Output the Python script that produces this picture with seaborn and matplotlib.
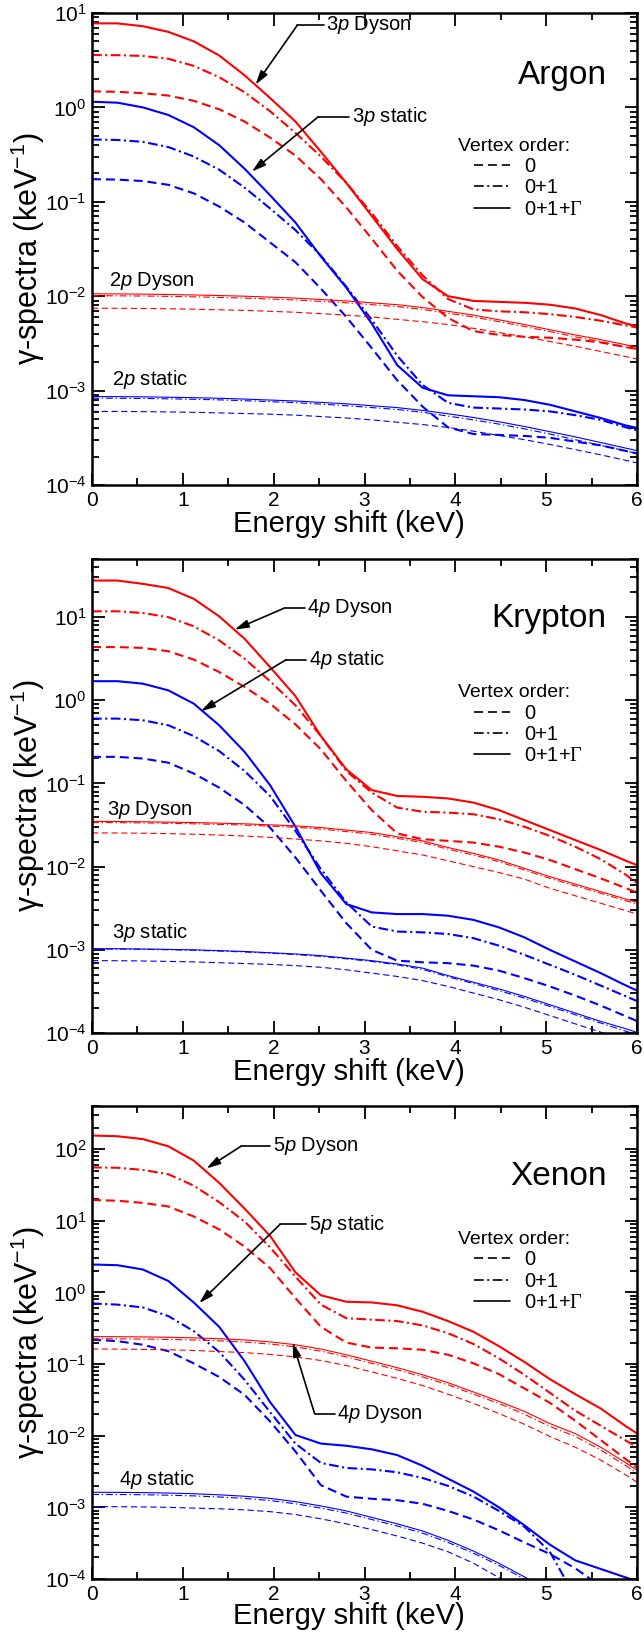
import numpy as np
import matplotlib
matplotlib.use("Agg")
import matplotlib.pyplot as plt
import seaborn as sns
from matplotlib.lines import Line2D
from matplotlib.ticker import LogLocator, NullFormatter, MultipleLocator, LogFormatterMathtext

# Energy grid of the spectra (keV)
ENERGY = [0.00, 0.28, 0.56, 0.84, 1.12, 1.40, 1.68, 1.96, 2.24, 2.52, 2.80, 3.08,
          3.36, 3.64, 3.92, 4.20, 4.48, 4.76, 5.04, 5.32, 5.60, 5.88, 6.16]

ORDER_LABELS = ["0", "0+1", r"0+1+$\mathsf{\Gamma}$"]

# log10 of the gamma-spectra (keV^-1), per vertex order: 0, 0+1, 0+1+Gamma
# ---- Argon ----
AR_3P_DYSON_0 = [0.17, 0.165, 0.15, 0.125, 0.07, -0.02, -0.15, -0.32, -0.51, -0.76, -1.06, -1.39,
                 -1.73, -2.01, -2.23, -2.37, -2.41, -2.43, -2.44, -2.46, -2.49, -2.54, -2.58]
AR_3P_DYSON_01 = [0.555, 0.553, 0.545, 0.515, 0.44, 0.32, 0.16, -0.04, -0.27, -0.52, -0.80, -1.12,
                  -1.47, -1.78, -2.03, -2.14, -2.16, -2.17, -2.19, -2.22, -2.26, -2.31, -2.36]
AR_3P_DYSON_01G = [0.89, 0.89, 0.86, 0.80, 0.70, 0.55, 0.34, 0.10, -0.15, -0.47, -0.80, -1.15,
                   -1.50, -1.82, -2.00, -2.05, -2.06, -2.07, -2.09, -2.13, -2.20, -2.29, -2.35]
AR_3P_STATIC_0 = [-0.76, -0.765, -0.78, -0.82, -0.91, -1.05, -1.22, -1.43, -1.64, -1.92, -2.22, -2.55,
                  -2.89, -3.17, -3.39, -3.46, -3.47, -3.48, -3.50, -3.54, -3.58, -3.64, -3.70]
AR_3P_STATIC_01 = [-0.34, -0.345, -0.365, -0.42, -0.52, -0.66, -0.85, -1.07, -1.30, -1.57, -1.90, -2.25,
                   -2.63, -2.94, -3.13, -3.18, -3.19, -3.20, -3.22, -3.26, -3.31, -3.39, -3.46]
AR_3P_STATIC_01G = [0.06, 0.05, 0.0, -0.08, -0.21, -0.40, -0.65, -0.93, -1.22, -1.58, -1.91, -2.29,
                    -2.73, -2.97, -3.05, -3.06, -3.07, -3.10, -3.15, -3.22, -3.29, -3.37, -3.43]
AR_2P_DYSON_0 = [-2.127, -2.128, -2.130, -2.133, -2.138, -2.144, -2.15, -2.16, -2.17, -2.185, -2.20, -2.22,
                 -2.245, -2.27, -2.30, -2.34, -2.385, -2.43, -2.48, -2.53, -2.585, -2.64, -2.70]
AR_2P_DYSON_01 = [-1.995, -1.996, -1.998, -2.002, -2.007, -2.013, -2.02, -2.03, -2.04, -2.055, -2.07, -2.09,
                  -2.11, -2.14, -2.18, -2.22, -2.27, -2.32, -2.375, -2.43, -2.48, -2.54, -2.59]
AR_2P_DYSON_01G = [-1.975, -1.976, -1.978, -1.982, -1.987, -1.993, -2.00, -2.01, -2.02, -2.035, -2.05, -2.07,
                   -2.09, -2.12, -2.16, -2.20, -2.25, -2.30, -2.355, -2.41, -2.46, -2.515, -2.57]
AR_2P_STATIC_0 = [-3.22, -3.221, -3.223, -3.226, -3.23, -3.236, -3.243, -3.25, -3.26, -3.275, -3.29, -3.31,
                  -3.335, -3.36, -3.39, -3.43, -3.475, -3.52, -3.57, -3.625, -3.68, -3.74, -3.80]
AR_2P_STATIC_01 = [-3.08, -3.081, -3.083, -3.087, -3.092, -3.098, -3.107, -3.117, -3.128, -3.143, -3.16, -3.18,
                   -3.20, -3.23, -3.27, -3.31, -3.355, -3.405, -3.46, -3.52, -3.58, -3.64, -3.70]
AR_2P_STATIC_01G = [-3.063, -3.064, -3.066, -3.07, -3.075, -3.081, -3.09, -3.10, -3.11, -3.125, -3.14, -3.16,
                    -3.18, -3.21, -3.245, -3.285, -3.33, -3.38, -3.435, -3.49, -3.55, -3.61, -3.67]

# ---- Krypton ----
KR_4P_DYSON_0 = [0.64, 0.64, 0.63, 0.59, 0.49, 0.34, 0.16, -0.04, -0.29, -0.59, -0.97, -1.32,
                 -1.60, -1.67, -1.69, -1.71, -1.76, -1.83, -1.92, -2.03, -2.14, -2.26, -2.38]
KR_4P_DYSON_01 = [1.07, 1.07, 1.05, 1.00, 0.89, 0.72, 0.50, 0.23, -0.06, -0.43, -0.85, -1.11,
                  -1.29, -1.34, -1.35, -1.37, -1.43, -1.52, -1.63, -1.76, -1.91, -2.10, -2.33]
KR_4P_DYSON_01G = [1.44, 1.44, 1.40, 1.35, 1.22, 1.01, 0.74, 0.40, 0.05, -0.43, -0.83, -1.08,
                   -1.15, -1.16, -1.18, -1.23, -1.32, -1.44, -1.56, -1.68, -1.80, -1.93, -2.05]
KR_4P_STATIC_0 = [-0.68, -0.68, -0.70, -0.75, -0.88, -1.05, -1.26, -1.53, -1.89, -2.29, -2.68, -3.00,
                  -3.13, -3.15, -3.16, -3.19, -3.25, -3.34, -3.44, -3.55, -3.67, -3.80, -3.93]
KR_4P_STATIC_01 = [-0.22, -0.22, -0.24, -0.30, -0.43, -0.61, -0.85, -1.15, -1.57, -2.03, -2.43, -2.72,
                   -2.78, -2.79, -2.81, -2.86, -2.95, -3.06, -3.18, -3.30, -3.43, -3.56, -3.69]
KR_4P_STATIC_01G = [0.23, 0.23, 0.20, 0.12, -0.04, -0.30, -0.62, -1.02, -1.52, -2.08, -2.45, -2.55,
                    -2.57, -2.57, -2.59, -2.64, -2.73, -2.85, -3.00, -3.14, -3.28, -3.43, -3.57]
KR_3P_DYSON_0 = [-1.594, -1.595, -1.598, -1.603, -1.61, -1.62, -1.632, -1.648, -1.668, -1.69, -1.72, -1.76,
                 -1.81, -1.86, -1.93, -2.00, -2.07, -2.15, -2.26, -2.35, -2.44, -2.53, -2.62]
KR_3P_DYSON_01 = [-1.47, -1.471, -1.474, -1.479, -1.485, -1.492, -1.50, -1.512, -1.527, -1.548, -1.578, -1.61,
                  -1.66, -1.71, -1.79, -1.86, -1.94, -2.04, -2.14, -2.23, -2.32, -2.41, -2.50]
KR_3P_DYSON_01G = [-1.456, -1.457, -1.46, -1.465, -1.47, -1.477, -1.485, -1.497, -1.51, -1.53, -1.56, -1.59,
                   -1.64, -1.69, -1.77, -1.84, -1.92, -2.02, -2.12, -2.21, -2.30, -2.39, -2.48]
KR_3P_STATIC_0 = [-3.13, -3.131, -3.134, -3.139, -3.145, -3.155, -3.165, -3.175, -3.19, -3.21, -3.24, -3.28,
                  -3.32, -3.37, -3.44, -3.52, -3.60, -3.69, -3.79, -3.89, -3.99, -4.09, -4.19]
KR_3P_STATIC_01 = [-2.99, -2.991, -2.994, -2.999, -3.005, -3.015, -3.026, -3.04, -3.057, -3.078, -3.108, -3.14,
                   -3.18, -3.235, -3.325, -3.405, -3.49, -3.58, -3.68, -3.78, -3.88, -3.98, -4.08]
KR_3P_STATIC_01G = [-2.986, -2.987, -2.99, -2.995, -3.00, -3.01, -3.02, -3.035, -3.05, -3.07, -3.10, -3.13,
                    -3.17, -3.22, -3.31, -3.39, -3.47, -3.56, -3.66, -3.76, -3.86, -3.95, -4.05]

# ---- Xenon ----
XE_5P_DYSON_0 = [1.29, 1.28, 1.25, 1.20, 1.06, 0.88, 0.64, 0.34, -0.08, -0.48, -0.70, -0.77,
                 -0.78, -0.80, -0.87, -0.99, -1.14, -1.34, -1.54, -1.79, -2.06, -2.33, -2.60]
XE_5P_DYSON_01 = [1.745, 1.74, 1.71, 1.65, 1.49, 1.26, 0.99, 0.63, 0.22, -0.17, -0.36, -0.38,
                  -0.40, -0.46, -0.57, -0.72, -0.92, -1.15, -1.40, -1.65, -1.86, -2.07, -2.28]
XE_5P_DYSON_01G = [2.19, 2.18, 2.14, 2.04, 1.84, 1.53, 1.17, 0.79, 0.28, -0.04, -0.13, -0.14,
                   -0.18, -0.27, -0.40, -0.55, -0.75, -0.97, -1.21, -1.42, -1.62, -1.87, -2.10]
XE_5P_STATIC_0 = [-0.66, -0.68, -0.73, -0.82, -0.99, -1.18, -1.43, -1.80, -2.22, -2.69, -2.85, -2.88,
                  -2.90, -2.95, -3.05, -3.17, -3.32, -3.49, -3.65, -3.85, -4.10, -4.40, -4.70]
XE_5P_STATIC_01 = [-0.154, -0.17, -0.21, -0.33, -0.54, -0.83, -1.22, -1.67, -2.11, -2.38, -2.45, -2.47,
                   -2.51, -2.59, -2.70, -2.85, -3.05, -3.27, -3.62, -4.25, -4.70, -5.10, -5.50]
XE_5P_STATIC_01G = [0.39, 0.38, 0.32, 0.16, -0.14, -0.48, -0.96, -1.53, -1.99, -2.11, -2.14, -2.19,
                    -2.27, -2.42, -2.60, -2.78, -3.00, -3.25, -3.52, -3.74, -3.86, -3.98, -4.10]
XE_4P_DYSON_0 = [-0.79, -0.791, -0.795, -0.80, -0.81, -0.825, -0.84, -0.865, -0.90, -0.95, -1.02, -1.11,
                 -1.20, -1.30, -1.42, -1.55, -1.69, -1.84, -2.01, -2.16, -2.34, -2.55, -2.78]
XE_4P_DYSON_01 = [-0.647, -0.648, -0.651, -0.656, -0.664, -0.676, -0.693, -0.72, -0.76, -0.82, -0.90, -0.99,
                  -1.08, -1.18, -1.29, -1.42, -1.55, -1.70, -1.87, -2.01, -2.20, -2.42, -2.66]
XE_4P_DYSON_01G = [-0.617, -0.618, -0.621, -0.626, -0.634, -0.646, -0.663, -0.69, -0.73, -0.79, -0.87, -0.96,
                   -1.05, -1.15, -1.26, -1.39, -1.52, -1.66, -1.83, -1.97, -2.16, -2.38, -2.62]
XE_4P_STATIC_0 = [-2.99, -2.991, -2.994, -3.0, -3.01, -3.02, -3.035, -3.06, -3.10, -3.16, -3.23, -3.31,
                  -3.40, -3.50, -3.62, -3.78, -3.98, -4.18, -4.38, -4.58, -4.78, -4.98, -5.18]
XE_4P_STATIC_01 = [-2.82, -2.821, -2.824, -2.83, -2.84, -2.855, -2.875, -2.905, -2.95, -3.01, -3.08, -3.17,
                   -3.26, -3.36, -3.49, -3.64, -3.81, -4.00, -4.20, -4.40, -4.60, -4.80, -5.00]
XE_4P_STATIC_01G = [-2.79, -2.791, -2.794, -2.80, -2.81, -2.825, -2.845, -2.875, -2.92, -2.98, -3.05, -3.14,
                    -3.23, -3.33, -3.46, -3.61, -3.78, -3.97, -4.17, -4.37, -4.57, -4.77, -4.97]

PANEL_NAMES = ["Argon", "Krypton", "Xenon"]
Y_LIMITS = [(1e-4, 1e1), (1e-4, 50), (1e-4, 400)]

# (curves of each orbital: 0, 0+1, 0+1+Gamma ; colour ; thick?)
PANEL_CURVES = [
    [((AR_3P_DYSON_0, AR_3P_DYSON_01, AR_3P_DYSON_01G), "red", True),
     ((AR_3P_STATIC_0, AR_3P_STATIC_01, AR_3P_STATIC_01G), "blue", True),
     ((AR_2P_DYSON_0, AR_2P_DYSON_01, AR_2P_DYSON_01G), "red", False),
     ((AR_2P_STATIC_0, AR_2P_STATIC_01, AR_2P_STATIC_01G), "blue", False)],
    [((KR_4P_DYSON_0, KR_4P_DYSON_01, KR_4P_DYSON_01G), "red", True),
     ((KR_4P_STATIC_0, KR_4P_STATIC_01, KR_4P_STATIC_01G), "blue", True),
     ((KR_3P_DYSON_0, KR_3P_DYSON_01, KR_3P_DYSON_01G), "red", False),
     ((KR_3P_STATIC_0, KR_3P_STATIC_01, KR_3P_STATIC_01G), "blue", False)],
    [((XE_5P_DYSON_0, XE_5P_DYSON_01, XE_5P_DYSON_01G), "red", True),
     ((XE_5P_STATIC_0, XE_5P_STATIC_01, XE_5P_STATIC_01G), "blue", True),
     ((XE_4P_DYSON_0, XE_4P_DYSON_01, XE_4P_DYSON_01G), "red", False),
     ((XE_4P_STATIC_0, XE_4P_STATIC_01, XE_4P_STATIC_01G), "blue", False)],
]

# Arrow labels: text, text x, log10 y of text, elbow x, arrow tip x, log10 y of tip
ARROW_LABELS = [
    [("3$p$ Dyson", 2.58, 0.87, 2.26, 1.80, 0.24),
     ("3$p$ static", 2.86, -0.10, 2.49, 1.76, -0.68)],
    [("4$p$ Dyson", 2.37, 1.11, 2.12, 1.57, 0.85),
     ("4$p$ static", 2.39, 0.49, 2.14, 1.20, -0.13)],
    [("5$p$ Dyson", 1.99, 2.04, 1.64, 1.26, 1.73),
     ("5$p$ static", 2.39, 0.95, 2.07, 1.18, -0.15)],
    ][:2] + [[("5$p$ Dyson", 1.99, 2.04, 1.64, 1.26, 1.73),
              ("5$p$ static", 2.39, 0.95, 2.07, 1.18, -0.15),
              ("4$p$ Dyson", 2.70, -1.69, 2.45, 2.21, -0.70)]]
# Plain labels: text, x, log10 y
PLAIN_LABELS = [
    [("2$p$ Dyson", 0.19, -1.84), ("2$p$ static", 0.22, -2.88)],
    [("3$p$ Dyson", 0.17, -1.32), ("3$p$ static", 0.22, -2.79)],
    [("4$p$ static", 0.30, -2.61)],
]
PANEL_NAME_Y = [0.867, 0.874, 0.852]
XLABEL_Y = [-0.052, -0.052, -0.049]

RED = "#ff0000"
BLUE = "#0000ff"
THICK_STYLES = [(0, (6.5, 3.5)), (0, (7, 2.5, 1.5, 2.5)), "-"]
THIN_STYLES = [(0, (4.5, 2.5)), (0, (5, 2, 1, 2)), "-"]

sns.set_theme(style="ticks")
plt.rcParams.update({
    "font.family": ["Liberation Sans", "DejaVu Sans"],
    "mathtext.fontset": "custom",
    "mathtext.rm": "Liberation Sans",
    "mathtext.it": "Liberation Sans:italic",
    "mathtext.sf": "Liberation Serif",
    "lines.scale_dashes": False,
    "axes.linewidth": 1.8,
    "axes.edgecolor": "black",
    "xtick.color": "black",
    "ytick.color": "black",
    "text.color": "black",
    "axes.labelcolor": "black",
})

fig = plt.figure(figsize=(6.44, 16.34), dpi=100)
W, H = 644.0, 1634.0
LEFT, RIGHT = 92.0, 637.0
PANEL_PX = [(13, 485), (559, 1033), (1106, 1579)]

for i, (top, bottom) in enumerate(PANEL_PX):
    ax = fig.add_axes([LEFT / W, 1 - bottom / H, (RIGHT - LEFT) / W, (bottom - top) / H])
    ax.set_yscale("log")

    for curves, colname, thick in PANEL_CURVES[i]:
        color = RED if colname == "red" else BLUE
        styles = THICK_STYLES if thick else THIN_STYLES
        lw = 1.5 if thick else 0.8
        for vals, ls in zip(curves, styles):
            sns.lineplot(x=ENERGY, y=np.power(10.0, vals), ax=ax, color=color,
                         linestyle=ls, linewidth=lw, estimator=None, sort=False)

    ax.set_xlim(0, 6)
    ax.set_ylim(*Y_LIMITS[i])

    # axis ticks
    ax.xaxis.set_major_locator(MultipleLocator(1))
    ax.xaxis.set_minor_locator(MultipleLocator(0.5))
    ax.yaxis.set_major_locator(LogLocator(base=10, numticks=20))
    ax.yaxis.set_minor_locator(LogLocator(base=10, subs=np.arange(2, 10), numticks=20))
    ax.yaxis.set_major_formatter(LogFormatterMathtext())
    ax.yaxis.set_minor_formatter(NullFormatter())
    ax.tick_params(which="both", direction="in", top=True, right=True, labelsize=15,
                   width=1.3)
    ax.tick_params(which="major", length=9, pad=4)
    ax.tick_params(which="minor", length=5)

    ax.set_xlabel("Energy shift (keV)", fontsize=21)
    ax.set_ylabel("γ-spectra (keV$^{-1}$)", fontsize=22)
    ax.yaxis.set_label_coords(-0.083, 0.5)
    ax.xaxis.set_label_coords(0.472, XLABEL_Y[i])

    # panel name
    ax.text(0.944, PANEL_NAME_Y[i], PANEL_NAMES[i], transform=ax.transAxes, fontsize=24,
            ha="right", va="center")

    # labelled arrows
    for text, tx, ty, ex, px, py in ARROW_LABELS[i]:
        yt = 10.0 ** ty
        ax.text(tx, yt, text, fontsize=14.5, ha="left", va="center")
        ax.plot([ex, tx - 0.03], [yt, yt], color="black", lw=1.2)
        ax.annotate("", xy=(px, 10.0 ** py), xytext=(ex, yt),
                    arrowprops=dict(arrowstyle="-|>,head_length=0.7,head_width=0.2",
                                    color="black", lw=1.2, shrinkA=0, shrinkB=0))
    for text, tx, ty in PLAIN_LABELS[i]:
        ax.text(tx, 10.0 ** ty, text, fontsize=14.5, ha="left", va="center")

    # vertex-order key
    ax.text(0.672, 0.718, "Vertex order:", transform=ax.transAxes, fontsize=14,
            ha="left", va="center")
    handles = [Line2D([], [], color="black", lw=1.2, linestyle=ls) for ls in THICK_STYLES]
    ax.legend(handles, ORDER_LABELS, loc="upper left", bbox_to_anchor=(0.701, 0.695),
              frameon=False, fontsize=14.5, handlelength=1.8, handletextpad=0.7,
              labelspacing=0.12, borderpad=0.0, borderaxespad=0.0)

fig.savefig("out.png", dpi=100, facecolor="white")
